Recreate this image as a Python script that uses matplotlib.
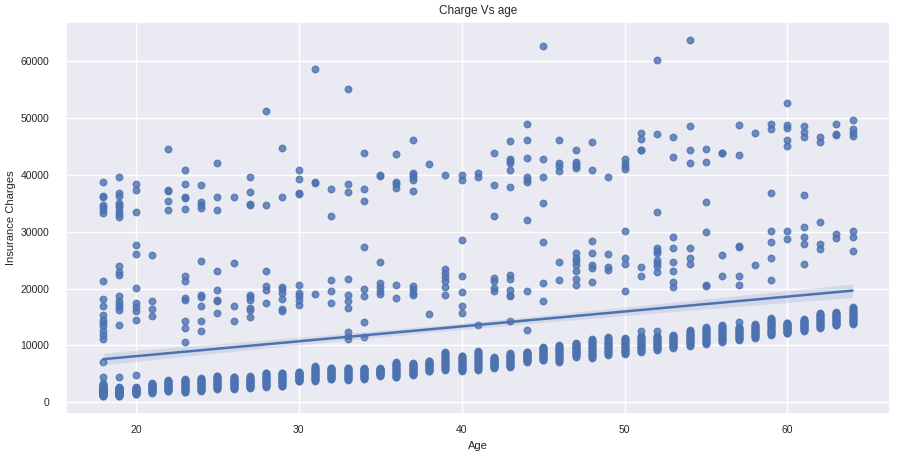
import matplotlib
matplotlib.use("Agg")
import matplotlib.pyplot as plt
import seaborn as sns
import numpy as np

ages = [18, 19, 20, 21, 22, 23, 24, 25, 26, 27, 28, 29, 30, 31, 32, 33, 34, 35, 36, 37, 38, 39, 40,
        41, 42, 43, 44, 45, 46, 47, 48, 49, 50, 51, 52, 53, 54, 55, 56, 57, 58, 59, 60, 61, 62, 63, 64]

# dense lower band (one list per age, same order as `ages`)
lower_band = [
    [1122, 1164, 1207, 1249, 1292, 1334, 1376, 1419, 1461, 1504, 1546, 1588, 1631, 1673, 1716, 1758,
     1800, 1843, 1885, 1928, 1970, 2012, 2055, 2097, 2140, 2182, 2224, 2267, 2309, 2352, 2394, 2436,
     2479, 2521, 2564, 2606, 2648, 2691, 2733, 2776, 2818, 2860, 2903, 2945, 2988, 3030, 3450, 4400],
    [1137, 1169, 1200, 1232, 1264, 1295, 1327, 1358, 1390, 1422, 1453, 1485, 1517, 1548, 1580, 1611,
     1643, 1675, 1706, 1738, 1769, 1801, 1833, 1864, 1896, 1928, 1959, 1991, 2022, 2054, 2086, 2117,
     2149, 2180, 2212, 2244, 2275, 2307, 2339, 2370, 2402, 2433, 2465, 2497, 2528, 2560, 2600, 4460],
    [1440, 1506, 1571, 1637, 1702, 1768, 1833, 1899, 1964, 2030, 2096, 2161, 2227, 2292, 2358, 2423, 2489, 2554, 2620, 4700],
    [1620, 1709, 1799, 1888, 1978, 2067, 2157, 2246, 2336, 2425, 2515, 2604, 2694, 2783, 2873, 2962, 3052, 3141, 3231, 3320],
    [1910, 2015, 2121, 2226, 2331, 2436, 2542, 2647, 2752, 2857, 2963, 3068, 3173, 3278, 3384, 3489, 3594, 3699, 3805, 3910],
    [1740, 1864, 1987, 2111, 2235, 2358, 2482, 2606, 2729, 2853, 2977, 3101, 3224, 3348, 3472, 3595, 3719, 3843, 3966, 4090],
    [2030, 2147, 2265, 2382, 2499, 2617, 2734, 2852, 2969, 3086, 3204, 3321, 3438, 3556, 3673, 3791, 3908, 4025, 4143, 4260],
    [2320, 2444, 2567, 2691, 2815, 2938, 3062, 3186, 3309, 3433, 3557, 3681, 3804, 3928, 4052, 4175, 4299, 4423, 4546, 4670],
    [2320, 2434, 2548, 2663, 2777, 2891, 3005, 3119, 3234, 3348, 3462, 3576, 3691, 3805, 3919, 4033, 4147, 4262, 4376, 4490],
    [2500, 2608, 2716, 2824, 2932, 3039, 3147, 3255, 3363, 3471, 3579, 3687, 3795, 3903, 4011, 4118, 4226, 4334, 4442, 4550],
    [2670, 2803, 2936, 3070, 3203, 3336, 3469, 3602, 3736, 3869, 4002, 4135, 4268, 4401, 4535, 4668, 4801, 4934, 5067, 5200],
    [2790, 2917, 3044, 3171, 3297, 3424, 3551, 3678, 3805, 3932, 4058, 4185, 4312, 4439, 4566, 4693, 4819, 4946, 5073, 5200],
    [3660, 3747, 3834, 3921, 4007, 4094, 4181, 4268, 4355, 4442, 4528, 4615, 4702, 4789, 4876, 4963, 5049, 5136, 5223, 5310],
    [3720, 3856, 3993, 4129, 4265, 4402, 4538, 4674, 4811, 4947, 5083, 5219, 5356, 5492, 5628, 5765, 5901, 6037, 6174, 6310],
    [4020, 4128, 4237, 4345, 4454, 4562, 4671, 4779, 4887, 4996, 5104, 5213, 5321, 5429, 5538, 5646, 5755, 5863, 5972, 6080],
    [3900, 4015, 4129, 4244, 4359, 4474, 4588, 4703, 4818, 4933, 5047, 5162, 5277, 5392, 5506, 5621, 5736, 5851, 5965, 6080],
    [4080, 4182, 4284, 4386, 4488, 4591, 4693, 4795, 4897, 4999, 5101, 5203, 5305, 5407, 5509, 5612, 5714, 5816, 5918, 6020],
    [4670, 4738, 4806, 4874, 4942, 5009, 5077, 5145, 5213, 5281, 5349, 5417, 5485, 5553, 5621, 5688, 5756, 5824, 5892, 5960],
    [4370, 4509, 4649, 4788, 4928, 5067, 5207, 5346, 5486, 5625, 5765, 5904, 6044, 6183, 6323, 6462, 6602, 6741, 6881, 7020],
    [4790, 4898, 5007, 5115, 5224, 5332, 5441, 5549, 5657, 5766, 5874, 5983, 6091, 6199, 6308, 6416, 6525, 6633, 6742, 6850],
    [5440, 5536, 5632, 5727, 5823, 5919, 6015, 6111, 6206, 6302, 6398, 6494, 6589, 6685, 6781, 6877, 6973, 7068, 7164, 7260],
    [5610, 5777, 5945, 6112, 6279, 6447, 6614, 6782, 6949, 7116, 7284, 7451, 7618, 7786, 7953, 8121, 8288, 8455, 8623, 8790],
    [5490, 5632, 5774, 5916, 6058, 6201, 6343, 6485, 6627, 6769, 6911, 7053, 7195, 7337, 7479, 7622, 7764, 7906, 8048, 8190],
    [5660, 5839, 6019, 6198, 6378, 6557, 6737, 6916, 7096, 7275, 7455, 7634, 7814, 7993, 8173, 8352, 8532, 8711, 8891, 9070],
    [6010, 6113, 6215, 6318, 6421, 6523, 6626, 6728, 6831, 6934, 7036, 7139, 7242, 7344, 7447, 7549, 7652, 7755, 7857, 7960],
    [6190, 6317, 6444, 6570, 6697, 6824, 6951, 7078, 7204, 7331, 7458, 7585, 7712, 7838, 7965, 8092, 8219, 8346, 8473, 8600],
    [7070, 7163, 7256, 7349, 7443, 7536, 7629, 7722, 7815, 7908, 8001, 8094, 8187, 8281, 8374, 8467, 8560, 8653, 8747, 8840],
    [7370, 7494, 7617, 7741, 7865, 7988, 8112, 8236, 8359, 8483, 8607, 8731, 8854, 8978, 9102, 9225, 9349, 9473, 9596, 9720],
    [7130, 7282, 7433, 7585, 7736, 7888, 8039, 8191, 8343, 8494, 8646, 8797, 8949, 9101, 9252, 9404, 9555, 9707, 9858, 10010],
    [8020, 8146, 8273, 8399, 8525, 8652, 8778, 8904, 9031, 9157, 9283, 9409, 9536, 9662, 9788, 9915, 10041, 10167, 10294, 10420],
    [7780, 7953, 8126, 8299, 8473, 8646, 8819, 8992, 9165, 9338, 9512, 9685, 9858, 10031, 10204, 10377, 10551, 10724, 10897, 11070],
    [8250, 8423, 8596, 8769, 8943, 9116, 9289, 9462, 9635, 9808, 9982, 10155, 10328, 10501, 10674, 10847, 11021, 11194, 11367, 11540],
    [8480, 8632, 8783, 8935, 9086, 9238, 9389, 9541, 9693, 9844, 9996, 10147, 10299, 10451, 10602, 10754, 10905, 11057, 11208, 11360],
    [8890, 9043, 9197, 9350, 9503, 9657, 9810, 9963, 10117, 10270, 10423, 10577, 10730, 10883, 11037, 11190, 11343, 11497, 11650, 12470],
    [9180, 9317, 9454, 9592, 9729, 9866, 10003, 10141, 10278, 10415, 10552, 10689, 10827, 10964, 11101, 11238, 11376, 11513, 11650, 12470],
    [9600, 9717, 9835, 9952, 10069, 10187, 10304, 10422, 10539, 10656, 10774, 10891, 11008, 11126, 11243, 11361, 11478, 11595, 11713, 11830],
    [9950, 10092, 10234, 10376, 10518, 10661, 10803, 10945, 11087, 11229, 11371, 11513, 11655, 11797, 11939, 12082, 12224, 12366, 12508, 12650],
    [10300, 10455, 10609, 10764, 10919, 11074, 11228, 11383, 11538, 11693, 11847, 12002, 12157, 12312, 12466, 12621, 12776, 12931, 13085, 13240],
    [10590, 10748, 10906, 11064, 11222, 11379, 11537, 11695, 11853, 12011, 12169, 12327, 12485, 12643, 12801, 12958, 13116, 13274, 13432, 13590],
    [11010, 11134, 11258, 11382, 11506, 11629, 11753, 11877, 12001, 12125, 12249, 12373, 12497, 12621, 12744, 12868, 12992, 13116, 13240, 14170],
    [11360, 11484, 11607, 11731, 11855, 11978, 12102, 12226, 12349, 12473, 12597, 12721, 12844, 12968, 13092, 13215, 13339, 13463, 13586, 13710],
    [11830, 11985, 12139, 12294, 12449, 12604, 12758, 12913, 13068, 13223, 13377, 13532, 13687, 13842, 13996, 14151, 14306, 14461, 14615, 14770],
    [12140, 12239, 12338, 12437, 12536, 12635, 12734, 12833, 12932, 13031, 13129, 13228, 13327, 13426, 13525, 13624, 13723, 13822, 13921, 14020],
    [12550, 12656, 12762, 12867, 12973, 13079, 13185, 13291, 13396, 13502, 13608, 13714, 13820, 13925, 14031, 14137, 14243, 14349, 14454, 14560],
    [13030, 13172, 13314, 13456, 13598, 13741, 13883, 14025, 14167, 14309, 14451, 14593, 14735, 14877, 15019, 15162, 15304, 15446, 15588, 15730],
    [13500, 13624, 13747, 13871, 13995, 14118, 14242, 14366, 14489, 14613, 14737, 14861, 14984, 15108, 15232, 15355, 15479, 15603, 15726, 15850],
    [13790, 13942, 14093, 14245, 14396, 14548, 14699, 14851, 15003, 15154, 15306, 15457, 15609, 15761, 15912, 16064, 16215, 16367, 16518, 16670],
]

# middle band (roughly 10k-32k)
middle_band = {
    18: [21290, 18180, 17000, 15290, 14530, 13940, 13350, 12470, 11880, 11120, 7060],
    19: [24060, 22880, 22350, 18640, 17880, 17300, 16770, 16170, 13590],
    20: [27590, 26120, 20120, 17470, 16700, 15990, 14530],
    21: [25880, 17880, 16410, 15230],
    23: [22290, 21410, 18360, 17940, 14350, 13060, 10520],
    24: [24940, 18810, 18530, 16870, 14350, 12470],
    25: [23050, 19700, 18060, 17880, 15710],
    26: [24590, 16870, 14350],
    27: [18940, 18470, 18060, 16590, 16290, 14930],
    28: [23050, 20400, 19820, 17470],
    29: [20300, 19940, 19240, 18180, 16470, 15990],
    30: [20700, 19240, 18640, 18060, 17170],
    31: [19060],
    32: [21460, 19520, 17470],
    33: [21760, 18940, 17760, 16590, 12350, 11580, 11120],
    34: [27360, 19940, 18760, 14120, 11530],
    35: [24770, 21000, 20300, 19520, 19120],
    36: [20650, 18410],
    37: [20530, 19940, 19240, 18940],
    38: [15590],
    39: [23480, 22770, 22060, 21290, 20300, 18810],
    40: [28520, 22170, 19350, 17000, 15710],
    41: [13520],
    42: [21880, 21290, 20120, 19520],
    43: [22470, 21710, 19820, 18940, 18640, 14350],
    44: [19520, 12640],
    45: [28290, 21000, 17880],
    46: [24640, 21590],
    47: [26180, 25420, 24940, 24230, 23170, 21760, 20650],
    48: [28350, 26300, 24110, 23650, 21110],
    49: [26120, 23760, 23350],
    50: [30180, 25420, 24410, 19520],
    51: [23830, 22170],
    52: [27180, 26580, 26180, 25120, 24530, 23940, 22880],
    53: [29050, 27180, 24760, 23050, 21110, 20300],
    54: [27180, 25420, 24410],
    55: [29930, 20580, 20500],
    56: [26000, 22290],
    57: [27460, 27290, 22170, 20650],
    58: [24180],
    59: [30110, 28290, 25420, 21590],
    60: [30110, 28820],
    61: [30890, 29050, 27890, 24410],
    62: [31650, 27890, 27000],
    63: [29530, 28880],
    64: [30110, 29170, 26650],
}

# upper band (roughly 32k and above)
upper_band = {
    18: [38700, 36300, 36150, 34800, 34300, 33800, 33300],
    19: [39700, 36800, 36300, 35100, 34700, 34300, 33700, 33200, 32600],
    20: [38350, 37420, 33530],
    22: [44500, 37450, 37250, 35500, 33900],
    23: [40950, 38500, 36100, 35950, 34100],
    24: [38200, 35200, 34650, 34250],
    25: [42100, 36100, 33900],
    26: [36100],
    27: [39650, 37050, 34850, 34700],
    28: [51200, 34650],
    29: [44700, 36100],
    30: [40950, 39250, 36850, 36700],
    31: [58600, 38750, 38600],
    32: [37600, 32800],
    33: [55200, 38350, 37050],
    34: [43950, 37600, 35400],
    35: [40000, 39850],
    36: [43750, 38800, 38350, 37650],
    37: [46180, 40420, 40000, 39700, 39110, 37240],
    38: [41940],
    39: [40000],
    40: [40050, 39060],
    41: [40290, 39640],
    42: [43950, 38290, 32830],
    43: [46000, 42770, 42400, 42060, 40950, 37820],
    44: [48950, 46180, 43000, 39640, 39110, 38760, 32050],
    45: [62770, 42830, 39640, 35000],
    46: [46180, 42060, 41590, 40710],
    47: [44360, 42300, 41900, 41550, 41200],
    48: [45820, 40950],
    49: [39640],
    50: [42830, 42060, 41590, 41120],
    51: [47480, 46420, 44480, 44400],
    52: [60190, 47300, 33470],
    53: [46770, 43170],
    54: [63820, 48650, 44360, 42120],
    55: [44530, 42240, 35180],
    56: [43950, 43850],
    57: [48770, 43600],
    58: [47480],
    59: [48950, 48060, 36890],
    60: [52710, 48770, 48310, 46180, 45120],
    61: [48650, 47600, 46770, 36530],
    62: [46770, 45820],
    63: [48950, 47300, 47120],
    64: [49770, 48060, 47360, 46890],
}

x_vals, y_vals = [], []
for age, vals in zip(ages, lower_band):
    x_vals += [age] * len(vals)
    y_vals += vals
for band in (middle_band, upper_band):
    for age, vals in band.items():
        x_vals += [age] * len(vals)
        y_vals += vals
x_vals = np.array(x_vals, dtype=float)
y_vals = np.array(y_vals, dtype=float)

sns.set_theme(style="darkgrid")
plt.rcParams["font.family"] = ["Liberation Sans", "DejaVu Sans"]

fig, ax = plt.subplots(figsize=(9, 4.58), dpi=100)
fig.subplots_adjust(left=0.073, right=0.989, top=0.952, bottom=0.097)

sns.regplot(x=x_vals, y=y_vals, ax=ax, color="#4C72B0",
            scatter_kws={"s": 22}, line_kws={"lw": 1.8}, seed=3)

ax.set_title("Charge Vs age", fontsize=8.5)
ax.set_xlabel("Age", fontsize=8, labelpad=4)
ax.set_ylabel("Insurance Charges", fontsize=8, labelpad=3)
ax.tick_params(axis="y", labelsize=7.5, pad=6)
ax.tick_params(axis="x", labelsize=7.5, pad=2.5)
ax.set_xticks([20, 30, 40, 50, 60])
ax.set_yticks([0, 10000, 20000, 30000, 40000, 50000, 60000])

fig.savefig("out.png", dpi=100)
